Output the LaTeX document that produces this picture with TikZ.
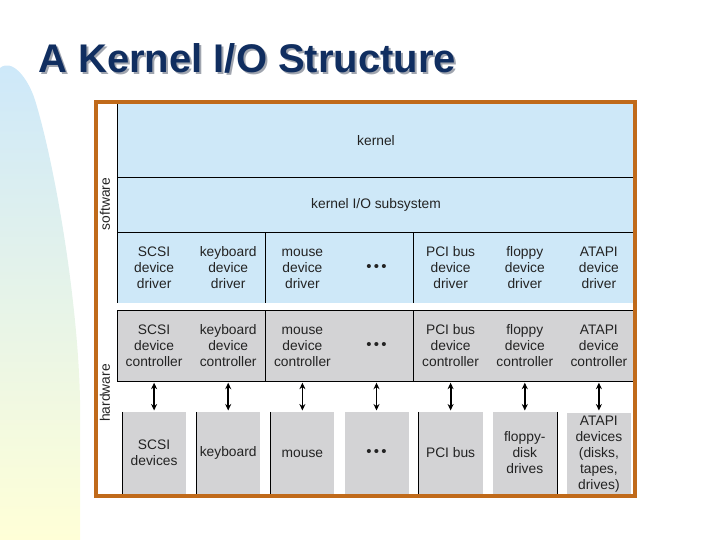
\documentclass[tikz,border=0pt]{standalone}
\usepackage{fontspec}
\setmainfont{Liberation Sans}
\usetikzlibrary{arrows.meta}
\definecolor{frameor}{RGB}{192,106,26}
\definecolor{swblue}{RGB}{206,232,248}
\definecolor{hwgray}{RGB}{211,211,213}
\definecolor{titleblue}{RGB}{16,46,96}
\definecolor{titleshade}{RGB}{160,165,175}
\definecolor{txt}{RGB}{35,35,35}
\definecolor{bgtop}{RGB}{205,232,250}
\definecolor{bgbot}{RGB}{255,255,215}
\newcommand\mydots{{\fontsize{15}{16}\selectfont •\hspace{2.2pt}•\hspace{2.2pt}•}}
\newcommand\fl{\vphantom{Sd}}
\begin{document}
\begin{tikzpicture}[x=1pt,y=-1pt,
  lbl/.style={text=txt, font=\fontsize{13.8}{16}\selectfont, align=center, inner sep=0pt},
  cell/.style={lbl, minimum width=74pt, minimum height=71pt},
  dev/.style={lbl, fill=hwgray, minimum width=64pt, minimum height=82pt},
  sep/.style={draw=black, line width=0.8pt},
  link/.style={{Stealth[length=6.5pt,width=6pt]}-{Stealth[length=6.5pt,width=6pt]}, line width=1.8pt, shorten >=1.5pt, shorten <=1.5pt}]
\useasboundingbox (0,0) rectangle (720,540);
% background decoration
\shade[top color=bgtop, bottom color=bgbot] (0,540) -- (0,68) .. controls (12,58) and (28,78) .. (35,100) .. controls (55,165) and (78,300) .. (80,400) -- (80,540) -- cycle;
% title
\node[anchor=base west, inner sep=0pt, text=titleshade, font=\fontsize{40}{48}\selectfont\bfseries] (titleshadow) at (40,75) {A Kernel I/O Structure};
\node[anchor=base west, inner sep=0pt, text=titleblue, font=\fontsize{40}{48}\selectfont\bfseries] (title) at (38,73) {A Kernel I/O Structure};
% fills
\fill[swblue] (117,104) rectangle (635,303);
\fill[hwgray] (117,310) rectangle (635,381);
% separating lines
\draw[sep] (117,104) -- (117,303);
\draw[sep] (117,177) -- (635,177);
\draw[sep] (117,232) -- (635,232);
\draw[sep] (265.3,232) -- (265.3,303);
\draw[sep] (413.6,232) -- (413.6,303);
\draw[sep] (635,310) -- (117,310) -- (117,381) -- (635,381);
\draw[sep] (265.3,310) -- (265.3,381);
\draw[sep] (413.6,310) -- (413.6,381);
% kernel
\node[lbl] (kernel) at (376,140.5) {\fl kernel};
\node[lbl] (kio) at (376,204.5) {kernel I/O subsystem};
% drivers
\node[cell] (r1) at (154.1,267.5) {SCSI\\device\\driver};
\node[cell] (r2) at (228.2,267.5) {keyboard\\device\\driver};
\node[cell] (r3) at (302.4,267.5) {\fl mouse\\device\\driver};
\node[cell] (r4) at (376.5,267.5) {\mydots};
\node[cell] (r5) at (450.6,267.5) {PCI bus\\device\\driver};
\node[cell] (r6) at (524.8,267.5) {floppy\\device\\driver};
\node[cell] (r7) at (598.9,267.5) {ATAPI\\device\\driver};
% controllers
\node[cell] (c1) at (154.1,345.5) {SCSI\\device\\controller};
\node[cell] (c2) at (228.2,345.5) {keyboard\\device\\controller};
\node[cell] (c3) at (302.4,345.5) {\fl mouse\\device\\controller};
\node[cell] (c4) at (376.5,345.5) {\mydots};
\node[cell] (c5) at (450.6,345.5) {PCI bus\\device\\controller};
\node[cell] (c6) at (524.8,345.5) {floppy\\device\\controller};
\node[cell] (c7) at (598.9,345.5) {ATAPI\\device\\controller};
% devices
\node[dev] (d1) at (154.1,453) {SCSI\\devices};
\node[dev] (d2) at (228.2,453) {keyboard};
\node[dev] (d3) at (302.4,453) {\fl mouse};
\node[dev] (d4) at (376.5,453) {\mydots};
\node[dev] (d5) at (450.6,453) {PCI bus};
\node[dev] (d6) at (524.8,453) {floppy-\\disk\\drives};
\node[dev] (d7) at (598.9,454) {ATAPI\\devices\\(disks,\\tapes,\\drives)};
\draw[sep] (d1.north west) -- (d1.south west);
\draw[sep] (d2.north west) -- (d2.south west);
\draw[sep] (d3.north west) -- (d3.south west);
\draw[sep] (d5.north west) -- (d5.south west);
\draw[sep] (d6.north east) -- (d6.south east);
% arrows
\foreach \i in {1,...,7} { \draw[link] (c\i.south) -- (d\i.north |- 0,412); }
% side labels
\node[lbl, rotate=90] (sw) at (105,204) {software};
\node[lbl, rotate=90] (hw) at (105,393) {hardware};
% frame
\draw[frameor, line width=4pt] (96,102) rectangle (635,496);
\end{tikzpicture}
\end{document}
